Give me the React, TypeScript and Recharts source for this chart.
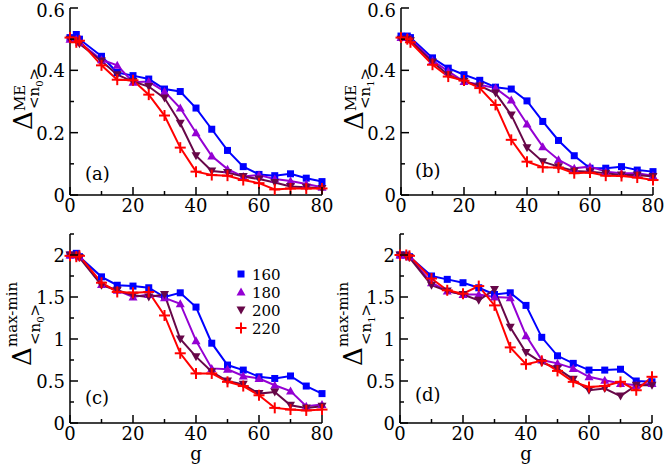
import { LineChart, Line, XAxis, YAxis, Legend } from 'recharts';

// g values (x axis)
const G = [0, 2, 3, 10, 15, 20, 25, 30, 35, 40, 45, 50, 55, 60, 65, 70, 75, 80];

const SIZES = ['160', '180', '200', '220'];
const COLORS = ['#0000ff', '#9400d3', '#670748', '#ff0000'];
const SHAPES = ['square', 'up', 'down', 'plus'];

// (a) Delta^ME <n0>
const A160 = [0.505, 0.515, 0.5, 0.445, 0.393, 0.383, 0.372, 0.34, 0.332, 0.279, 0.211, 0.143, 0.091, 0.066, 0.062, 0.068, 0.054, 0.043];
const A180 = [0.5, 0.5, 0.49, 0.434, 0.416, 0.362, 0.364, 0.332, 0.279, 0.2, 0.125, 0.083, 0.059, 0.064, 0.051, 0.045, 0.035, 0.025];
const A200 = [0.5, 0.495, 0.485, 0.43, 0.386, 0.364, 0.348, 0.311, 0.23, 0.126, 0.077, 0.072, 0.059, 0.051, 0.04, 0.027, 0.025, 0.021];
const A220 = [0.505, 0.49, 0.495, 0.416, 0.37, 0.368, 0.322, 0.255, 0.152, 0.075, 0.064, 0.062, 0.048, 0.038, 0.018, 0.021, 0.021, 0.021];

// (b) Delta^ME <n1>
const B160 = [0.51, 0.51, 0.505, 0.44, 0.407, 0.386, 0.368, 0.346, 0.34, 0.302, 0.236, 0.175, 0.126, 0.086, 0.086, 0.091, 0.08, 0.075];
const B180 = [0.505, 0.505, 0.5, 0.431, 0.397, 0.364, 0.354, 0.343, 0.305, 0.228, 0.155, 0.113, 0.086, 0.091, 0.075, 0.07, 0.07, 0.062];
const B200 = [0.5, 0.5, 0.495, 0.427, 0.386, 0.364, 0.35, 0.327, 0.257, 0.152, 0.107, 0.091, 0.077, 0.075, 0.07, 0.064, 0.064, 0.059];
const B220 = [0.505, 0.5, 0.49, 0.418, 0.38, 0.367, 0.343, 0.289, 0.177, 0.107, 0.089, 0.088, 0.07, 0.072, 0.062, 0.061, 0.056, 0.048];

// (c) Delta^max-min <n0>
const C160 = [2.0, 2.02, 1.98, 1.74, 1.64, 1.63, 1.61, 1.5, 1.55, 1.38, 0.95, 0.69, 0.63, 0.55, 0.53, 0.56, 0.44, 0.35];
const C180 = [2.0, 2.0, 1.98, 1.65, 1.58, 1.5, 1.53, 1.49, 1.42, 0.98, 0.65, 0.64, 0.56, 0.53, 0.45, 0.38, 0.2, 0.22];
const C200 = [2.0, 1.99, 1.97, 1.64, 1.58, 1.52, 1.5, 1.53, 1.0, 0.79, 0.61, 0.5, 0.46, 0.35, 0.37, 0.21, 0.18, 0.2];
const C220 = [1.99, 1.98, 1.99, 1.67, 1.56, 1.55, 1.56, 1.28, 0.83, 0.59, 0.59, 0.49, 0.44, 0.33, 0.18, 0.16, 0.15, 0.16];

// (d) Delta^max-min <n1>
const D160 = [2.0, 2.0, 1.98, 1.75, 1.71, 1.67, 1.61, 1.53, 1.55, 1.4, 1.02, 0.8, 0.71, 0.63, 0.63, 0.64, 0.5, 0.49];
const D180 = [2.0, 2.0, 1.98, 1.67, 1.57, 1.53, 1.53, 1.5, 1.49, 1.04, 0.75, 0.71, 0.65, 0.55, 0.51, 0.47, 0.45, 0.47];
const D200 = [2.0, 1.99, 1.97, 1.64, 1.57, 1.53, 1.46, 1.59, 1.14, 0.84, 0.72, 0.65, 0.52, 0.39, 0.41, 0.32, 0.45, 0.45];
const D220 = [2.0, 2.0, 1.99, 1.72, 1.58, 1.54, 1.63, 1.4, 0.9, 0.7, 0.74, 0.62, 0.49, 0.43, 0.44, 0.49, 0.39, 0.55];

const X_TICKS = [0, 10, 20, 30, 40, 50, 60, 70, 80];
const Y_TICKS_ME = [0, 0.1, 0.2, 0.3, 0.4, 0.5, 0.6];
const Y_TICKS_MM = [0, 0.25, 0.5, 0.75, 1, 1.25, 1.5, 1.75, 2, 2.25];

const FONT = "'DejaVu Serif', 'Liberation Serif', serif";
const TXT = { fontFamily: FONT };

const build = (series: number[][]) =>
  G.map((g, i) => {
    const row: Record<string, number> = { g };
    SIZES.forEach((s, k) => (row['s' + s] = series[k][i]));
    return row;
  });

const DATA_A = build([A160, A180, A200, A220]);
const DATA_B = build([B160, B180, B200, B220]);
const DATA_C = build([C160, C180, C200, C220]);
const DATA_D = build([D160, D180, D200, D220]);

function Marker({ shape, color, cx, cy }: { shape: string; color: string; cx: number; cy: number }) {
  if (shape === 'square') return <rect x={cx - 3.5} y={cy - 3.5} width={7} height={7} fill={color} />;
  if (shape === 'up')
    return <polygon points={`${cx},${cy - 4.5} ${cx + 4.5},${cy + 3.5} ${cx - 4.5},${cy + 3.5}`} fill={color} />;
  if (shape === 'down')
    return <polygon points={`${cx},${cy + 4.5} ${cx + 4.5},${cy - 3.5} ${cx - 4.5},${cy - 3.5}`} fill={color} />;
  return (
    <g stroke={color} strokeWidth={2}>
      <line x1={cx - 5.5} x2={cx + 5.5} y1={cy} y2={cy} />
      <line x1={cx} x2={cx} y1={cy - 5.5} y2={cy + 5.5} />
    </g>
  );
}

const isMajorX = (v: number) => v % 20 === 0;

function BottomTick(p: any) {
  const v = p.payload.value;
  const major = isMajorX(v);
  return (
    <g>
      <line x1={p.x} x2={p.x} y1={p.y} y2={p.y - (major ? 8 : 4)} stroke="#000" strokeWidth={1.5} />
      {major && (
        <text x={p.x} y={p.y + 17} textAnchor="middle" fontSize={18} style={TXT} fill="#000">
          {v}
        </text>
      )}
    </g>
  );
}

function TopTick(p: any) {
  const major = isMajorX(p.payload.value);
  return <line x1={p.x} x2={p.x} y1={p.y} y2={p.y + (major ? 8 : 4)} stroke="#000" strokeWidth={1.5} />;
}

const yMajor = (v: number, kind: string) =>
  kind === 'me' ? Math.round(v * 10) % 2 === 0 : Math.round(v * 4) % 2 === 0;
const yLabel = (v: number, kind: string) => (v === 0 ? '0' : kind === 'me' ? v.toFixed(1) : String(v));

function LeftTick(p: any) {
  const v = p.payload.value;
  const major = yMajor(v, p.kind);
  return (
    <g>
      <line x1={p.x} x2={p.x + (major ? 8 : 4)} y1={p.y} y2={p.y} stroke="#000" strokeWidth={1.5} />
      {major && (
        <text x={p.x - 5} y={Math.max(p.y + 7, 17)} textAnchor="end" fontSize={18} style={TXT} fill="#000">
          {yLabel(v, p.kind)}
        </text>
      )}
    </g>
  );
}

function RightTick(p: any) {
  const major = yMajor(p.payload.value, p.kind);
  return <line x1={p.x} x2={p.x - (major ? 8 : 4)} y1={p.y} y2={p.y} stroke="#000" strokeWidth={1.5} />;
}

function LegendBox({ payload }: any) {
  return (
    <svg width={70} height={75} style={{ display: 'block' }}>
      {(payload || []).map((e: any, i: number) => (
        <g key={e.value}>
          <Marker shape={SHAPES[i]} color={COLORS[i]} cx={8} cy={9 + i * 18} />
          <text x={19} y={9 + i * 18 + 6} fontSize={15} style={TXT} fill="#000">
            {e.value}
          </text>
        </g>
      ))}
    </svg>
  );
}

interface PanelProps {
  left: number;
  top: number;
  height: number;
  xAxisHeight: number;
  data: Record<string, number>[];
  kind: 'me' | 'mm';
  legend?: boolean;
}

function Panel({ left, top, height, xAxisHeight, data, kind, legend }: PanelProps) {
  const yMax = kind === 'me' ? 0.6 : 2.25;
  const yTicks = kind === 'me' ? Y_TICKS_ME : Y_TICKS_MM;
  const axisLine = { stroke: '#000', strokeWidth: 1.5 };
  return (
    <div style={{ position: 'absolute', left, top }}>
      <LineChart width={346} height={height} data={data} margin={{ top: 8, right: 24, left: 0, bottom: 0 }}>
        <XAxis
          dataKey="g"
          type="number"
          domain={[0, 80]}
          ticks={X_TICKS}
          interval={0}
          height={xAxisHeight}
          axisLine={axisLine}
          tickLine={false}
          tickSize={0}
          tickMargin={0}
          tick={(p: any) => <BottomTick {...p} />}
        />
        <XAxis
          xAxisId="top"
          orientation="top"
          dataKey="g"
          type="number"
          domain={[0, 80]}
          ticks={X_TICKS}
          interval={0}
          height={0}
          axisLine={axisLine}
          tickLine={false}
          tickSize={0}
          tickMargin={0}
          tick={(p: any) => <TopTick {...p} />}
        />
        <YAxis
          type="number"
          domain={[0, yMax]}
          ticks={yTicks}
          interval={0}
          width={70}
          axisLine={axisLine}
          tickLine={false}
          tickSize={0}
          tickMargin={0}
          tick={(p: any) => <LeftTick {...p} kind={kind} />}
        />
        <YAxis
          yAxisId="right"
          orientation="right"
          type="number"
          domain={[0, yMax]}
          ticks={yTicks}
          interval={0}
          width={0}
          axisLine={axisLine}
          tickLine={false}
          tickSize={0}
          tickMargin={0}
          tick={(p: any) => <RightTick {...p} kind={kind} />}
        />
        {SIZES.map((s, k) => (
          <Line
            key={s}
            type="linear"
            dataKey={'s' + s}
            name={s}
            stroke={COLORS[k]}
            strokeWidth={2}
            isAnimationActive={false}
            activeDot={false}
            dot={(p: any) => (
              <Marker key={`${s}-${p.index}`} shape={SHAPES[k]} color={COLORS[k]} cx={p.cx} cy={p.cy} />
            )}
          />
        ))}
        {legend && (
          <Legend
            layout="vertical"
            align="center"
            verticalAlign="middle"
            content={<LegendBox />}
            wrapperStyle={{ left: 233, top: 39, width: 70, height: 75 }}
          />
        )}
      </LineChart>
    </div>
  );
}

function YTitle({ x, y, sup, idx, supV, subV }: { x: number; y: number; sup: string; idx: string; supV: number; subV: number }) {
  return (
    <g transform={`translate(${x},${y}) rotate(-90)`} style={TXT} fill="#000">
      <text x={0} y={0} fontSize={26}>
        Δ
      </text>
      <text x={19} y={supV} fontSize={15}>
        {sup}
      </text>
      <text x={21} y={subV} fontSize={15}>
        {'<n'}
        <tspan fontSize={10} dy={4}>
          {idx}
        </tspan>
        <tspan dy={-4}>{'>'}</tspan>
      </text>
    </g>
  );
}

export default function App() {
  return (
    <div
      style={{
        position: 'absolute',
        left: 0,
        top: 0,
        width: 664,
        height: 466,
        overflow: 'hidden',
        background: '#fff',
      }}
    >
      <Panel left={0} top={0} height={230} xAxisHeight={35} data={DATA_A} kind="me" />
      <Panel left={331} top={0} height={230} xAxisHeight={35} data={DATA_B} kind="me" />
      <Panel left={0} top={226} height={240} xAxisHeight={43} data={DATA_C} kind="mm" legend />
      <Panel left={330} top={226} height={240} xAxisHeight={43} data={DATA_D} kind="mm" />
      <svg
        width={664}
        height={466}
        style={{ position: 'absolute', left: 0, top: 0, pointerEvents: 'none' }}
      >
        <YTitle x={32} y={130} sup="ME" idx="0" supV={-7} subV={7} />
        <YTitle x={363} y={130} sup="ME" idx="1" supV={-7} subV={7} />
        <YTitle x={31} y={366} sup="max-min" idx="0" supV={-14} subV={9} />
        <YTitle x={362} y={366} sup="max-min" idx="1" supV={-14} subV={9} />
        <g style={TXT} fontSize={18} fill="#000">
          <text x={85} y={180}>(a)</text>
          <text x={415} y={177}>(b)</text>
          <text x={85} y={404}>(c)</text>
          <text x={415} y={401}>(d)</text>
        </g>
        <g style={TXT} fontSize={18} fill="#000" textAnchor="middle">
          <text x={196} y={460}>g</text>
          <text x={526} y={460}>g</text>
        </g>
      </svg>
    </div>
  );
}
